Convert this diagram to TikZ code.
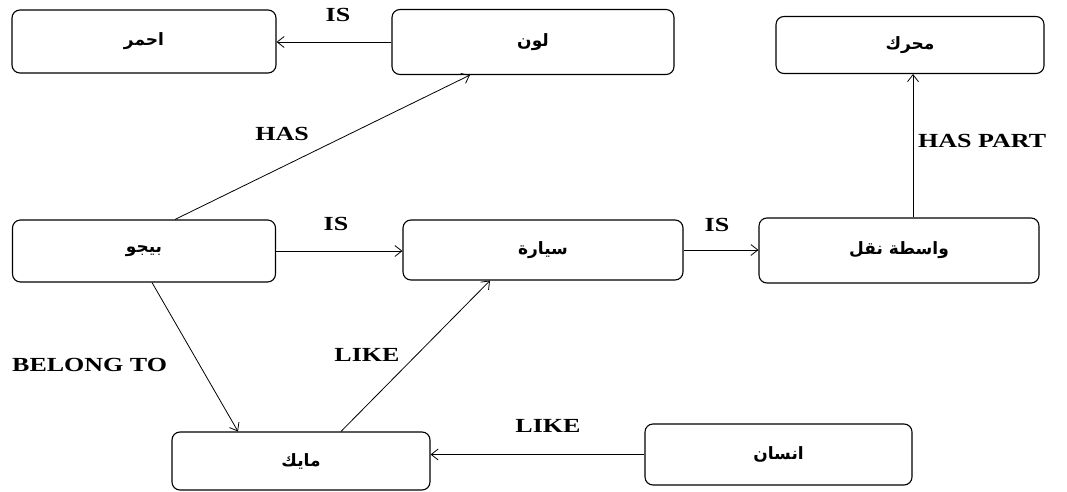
\documentclass[tikz,border=0pt]{standalone}
\usepackage{fontspec}
\setmainfont{Liberation Serif}
\newfontfamily\relfont[FakeStretch=1.3]{Liberation Serif}
\newfontfamily\arabicfont[Script=Arabic]{DejaVu Sans}
\TeXXeTstate=1
\usetikzlibrary{arrows.meta}

\begin{document}
\begin{tikzpicture}[x=1pt, y=-1pt,
    concept/.style={draw, line width=1.1pt, rounded corners=8pt, inner sep=0pt,
      font=\arabicfont\bfseries\fontsize{17}{19}\selectfont},
    rel/.style={font=\relfont\bfseries\fontsize{20}{22}\selectfont, inner sep=0pt},
    link/.style={line width=0.8pt, -{Straight Barb[length=7pt, width=11pt]}}]
  \useasboundingbox (0,0) rectangle (1067,492);
  \node[concept, minimum width=264pt, minimum height=63pt] (ahmar) at (144,41.5) {\beginR احمر\endR};
  \node[concept, minimum width=282pt, minimum height=65pt] (lawn) at (533,42) {\beginR لون\endR};
  \node[concept, minimum width=268pt, minimum height=57pt] (muharrik) at (910,45) {\beginR محرك\endR};
  \node[concept, minimum width=263pt, minimum height=62pt] (bijo) at (144,251) {\beginR بيجو\endR};
  \node[concept, minimum width=280pt, minimum height=60pt] (sayara) at (543,250) {\beginR سيارة\endR};
  \node[concept, minimum width=280pt, minimum height=65pt] (wasita) at (899,250.5) {\beginR واسطة نقل\endR};
  \node[concept, minimum width=258pt, minimum height=58pt] (mike) at (301,461) {\beginR مايك\endR};
  \node[concept, minimum width=267pt, minimum height=61pt] (insan) at (778.5,454.5) {\beginR انسان\endR};

  \node[rel] (is color) at (338,15) {IS};
  \node[rel] (has color) at (282,134) {HAS};
  \node[rel] (is car) at (336,224) {IS};
  \node[rel] (is vehicle) at (717,225) {IS};
  \node[rel, anchor=west] (has part) at (918,141) {HAS PART};
  \node[rel, anchor=west] (belong to) at (12,365) {BELONG TO};
  \node[rel] (like car) at (367,355) {LIKE};
  \node[rel] (like mike) at (548,426) {LIKE};

  \draw[link] (lawn.west) -- (lawn.west -| ahmar.east);
  \draw[link] ([xshift=31pt]bijo.north) -- ([xshift=-63pt]lawn.south);
  \draw[link] (bijo.east) -- (bijo.east -| sayara.west);
  \draw[link] (sayara.east) -- (sayara.east -| wasita.west);
  \draw[link] ([xshift=14pt]wasita.north) -- ([xshift=14pt]wasita.north |- muharrik.south);
  \draw[link] ([xshift=8pt]bijo.south) -- ([xshift=-63pt]mike.north);
  \draw[link] ([xshift=40pt]mike.north) -- ([xshift=-53pt]sayara.south);
  \draw[link] (insan.west) -- (insan.west -| mike.east);
\end{tikzpicture}
\end{document}
